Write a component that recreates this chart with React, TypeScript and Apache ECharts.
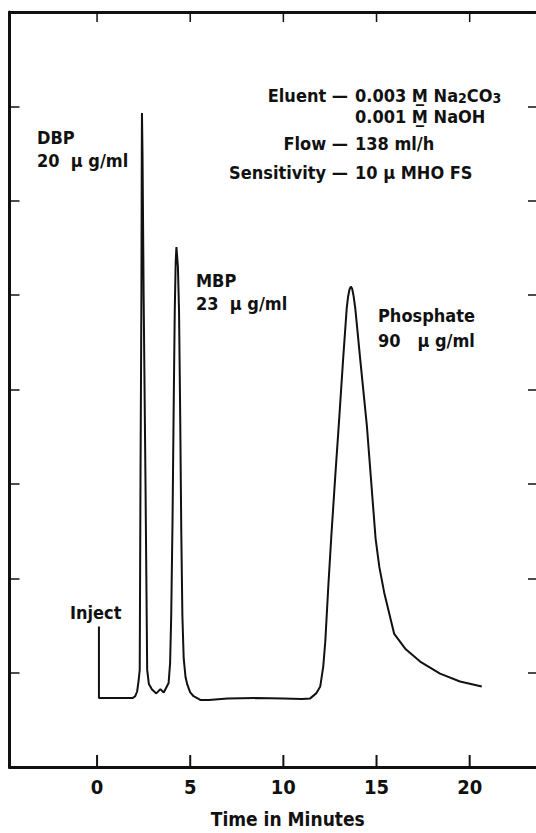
import React, { useEffect, useRef } from "react";
import * as echarts from "echarts";

// Chromatogram trace: time (minutes) and detector signal (chart units, 0..8 full frame)
const times = [
  0.1, 0.1, 1.9, 2.05, 2.15, 2.22, 2.29, 2.33, 2.38, 2.4, 2.41, 2.44, 2.5, 2.6, 2.69,
  2.78, 2.95, 3.18, 3.4, 3.58, 3.84, 3.92, 3.98, 4.05, 4.11, 4.17, 4.22, 4.26,
  4.34, 4.4, 4.46, 4.52, 4.58, 4.65, 4.75, 4.85, 5.0, 5.18, 5.54, 6.0, 7.0, 8.5, 10.0, 11.0,
  11.44, 11.76, 11.98, 12.14, 12.25, 12.41, 12.57, 12.78, 13.0, 13.21, 13.4, 13.47, 13.55, 13.62,
  13.69, 13.77, 13.86, 14.12, 14.48, 14.75, 14.95, 15.15, 15.41, 15.95, 16.54, 17.34, 18.41, 19.48, 20.65,
];
const signal = [
  1.49, 0.73, 0.73, 0.75, 0.8, 0.9, 1.03, 3.0, 4.99, 6.5, 6.93, 6.5, 4.99, 3.0, 1.03,
  0.88, 0.82, 0.78, 0.825, 0.79, 0.89, 1.1, 1.6, 2.6, 3.77, 4.83, 5.35, 5.51,
  5.3, 4.83, 3.77, 2.5, 1.6, 1.15, 0.95, 0.87, 0.79, 0.75, 0.71, 0.71, 0.725, 0.73, 0.725, 0.72,
  0.727, 0.78, 0.854, 1.064, 1.33, 1.907, 2.434, 3.066, 3.7, 4.33, 4.86, 4.98, 5.06, 5.09,
  5.07, 4.99, 4.86, 4.33, 3.62, 2.93, 2.42, 2.12, 1.85, 1.41, 1.254, 1.117, 0.99, 0.906, 0.854,
];
const xTickValues = [0, 5, 10, 15, 20];
const xTickLabels = ["0", "5", "10", "15", "20"];
const xAxisTitle = "Time in Minutes";
const xMin = -4.7;
const xMax = 23.56;
const yMin = 0;
const yMax = 8;

const FONT = "'Liberation Sans Narrow', 'Arial Narrow', 'DejaVu Sans Condensed', 'Roboto', sans-serif";
const INK = "#111";

export default function App() {
  const ref = useRef<HTMLDivElement>(null);
  useEffect(() => {
    if (!ref.current) return;
    const chart = echarts.init(ref.current, null, { renderer: "svg" });
    const data = times.map((t, i) => [t, signal[i]]);
    const txt = (x: number, y: number, text: string, align: string = "left", size = 18) => ({
      type: "text",
      x,
      y,
      style: {
        text,
        fill: INK,
        font: `bold ${size}px ${FONT}`,
        fontFamily: FONT,
        fontWeight: "bold",
        fontSize: size,
        textAlign: align,
        textVerticalAlign: "middle",
        rich: {
          s: { fontSize: 14, fontWeight: "bold", fontFamily: FONT, fill: INK, padding: [5, 0, 0, 0] },
        },
      },
    });
    const axisLine = { show: true, onZero: false, lineStyle: { color: INK, width: 3 } };
    const texts = [
      txt(348, 95, "Eluent —", "right"),
      txt(355, 95, "0.003 M̲ Na{s|2}CO{s|3}"),
      txt(355, 116, "0.001 M̲ NaOH"),
      txt(348, 143, "Flow —", "right"),
      txt(355, 143, "138 ml/h"),
      txt(348, 172, "Sensitivity —", "right"),
      txt(355, 172, "10 µ MHO FS"),
      txt(37, 137, "DBP"),
      txt(37, 160, "20  µ g/ml"),
      txt(196, 280, "MBP"),
      txt(196, 303, "23  µ g/ml"),
      txt(378, 315, "Phosphate"),
      txt(378, 340, "90   µ g/ml"),
      txt(70, 612, "Inject"),
    ];
    chart.setOption({
      animation: false,
      backgroundColor: "#fff",
      grid: { left: 9.5, top: 12, right: 0, bottom: 61, containLabel: false },
      xAxis: [
        {
          type: "value",
          position: "bottom",
          min: xMin,
          max: xMax,
          axisLine,
          axisTick: { show: false },
          axisLabel: {
            show: true,
            customValues: xTickValues,
            formatter: (v: number) => xTickLabels[xTickValues.indexOf(Math.round(v))] ?? "",
            color: INK,
            fontFamily: FONT,
            fontWeight: "bold",
            fontSize: 20,
            margin: 10,
          },
          splitLine: { show: false },
          name: xAxisTitle,
          nameLocation: "middle",
          nameGap: 42,
          nameTextStyle: { color: INK, fontFamily: FONT, fontWeight: "bold", fontSize: 19, padding: [0, 0, 0, 30] },
        },
        {
          type: "value",
          position: "top",
          min: xMin,
          max: xMax,
          axisLine,
          axisTick: { show: false },
          axisLabel: { show: false },
          splitLine: { show: false },
        },
      ],
      yAxis: [
        {
          type: "value",
          position: "left",
          min: yMin,
          max: yMax,
          interval: 1,
          axisLine,
          axisTick: { show: true, inside: true, length: 10, lineStyle: { color: INK, width: 1.5 } },
          axisLabel: { show: false },
          splitLine: { show: false },
        },
        {
          type: "value",
          position: "right",
          min: yMin,
          max: yMax,
          interval: 1,
          axisLine: { show: false, onZero: false },
          axisTick: { show: true, inside: true, length: 8, lineStyle: { color: INK, width: 1.5 } },
          axisLabel: { show: false },
          splitLine: { show: false },
        },
      ],
      series: [
        {
          type: "line",
          data,
          xAxisIndex: 0,
          yAxisIndex: 0,
          showSymbol: false,
          smooth: false,
          lineStyle: { color: INK, width: 2 },
          z: 3,
        },
      ],
      graphic: texts,
    });

    // frame tick marks on top and bottom, placed through the chart's own x scale
    const ticks: any[] = [];
    xTickValues.forEach((t) => {
      const b = chart.convertToPixel({ xAxisIndex: 0, yAxisIndex: 0 }, [t, yMin]) as number[];
      const tp = chart.convertToPixel({ xAxisIndex: 0, yAxisIndex: 0 }, [t, yMax]) as number[];
      if (b && tp) {
        ticks.push({
          type: "rect",
          shape: { x: b[0] - 1, y: b[1] - 12, width: 2, height: 12 },
          style: { fill: INK },
          z: 100,
        });
        ticks.push({
          type: "rect",
          shape: { x: tp[0] - 0.75, y: tp[1], width: 1.5, height: 10 },
          style: { fill: INK },
          z: 100,
        });
      }
    });
    chart.setOption({ graphic: [...texts, ...ticks] });
    return () => chart.dispose();
  }, []);
  return (
    <div
      ref={ref}
      style={{ position: "fixed", left: 0, top: 0, width: 536, height: 833, background: "#fff" }}
    />
  );
}
